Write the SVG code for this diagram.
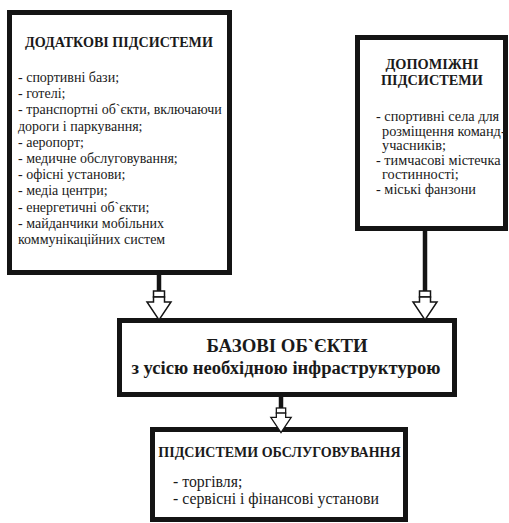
<svg xmlns="http://www.w3.org/2000/svg" xmlns:xlink="http://www.w3.org/1999/xlink" width="509" height="523" viewBox="0 0 509 523">
<style>
.box{fill:#fff;stroke:#141414;stroke-width:5}
.stem{stroke:#141414;stroke-width:4.5;fill:none}
.ah{fill:#fff;stroke:#141414;stroke-width:1.5}
</style>
<defs>
<g id="arr">
<rect class="ah" x="-5.5" y="0" width="11" height="6"/>
<polygon class="ah" points="-5.5,6 5.5,6 5.5,11 12,11 0,29 -12,11 -5.5,11"/>
</g>
</defs>
<rect width="509" height="523" fill="#fff"/>
<g fill="#1a1a1a" font-family="'Liberation Serif', 'Times New Roman', serif">
<g id="node-dodatkovi">
<rect class="box" x="9.5" y="12.5" width="220" height="260"/>
<text x="119" y="47" font-size="14.1" font-weight="bold" text-anchor="middle">ДОДАТКОВІ ПІДСИСТЕМИ</text>
<g font-size="14">
<text x="18" y="82">- спортивні бази;</text>
<text x="18" y="98.2">- готелі;</text>
<text x="18" y="114.4">- транспортні об`єкти, включаючи</text>
<text x="18" y="130.6">дороги і паркування;</text>
<text x="18" y="146.8">- аеропорт;</text>
<text x="18" y="163">- медичне обслуговування;</text>
<text x="18" y="179.2">- офісні установи;</text>
<text x="18" y="195.4">- медіа центри;</text>
<text x="18" y="211.6">- енергетичні об`єкти;</text>
<text x="18" y="227.8">- майданчики мобільних</text>
<text x="18" y="244">коммунікаційних систем</text>
</g>
</g>
<g id="node-dopomizhni">
<rect class="box" x="357.5" y="37.5" width="148" height="191"/>
<text x="432" y="69" font-size="14.3" font-weight="bold" text-anchor="middle">ДОПОМІЖНІ</text>
<text x="432" y="85" font-size="14.3" font-weight="bold" text-anchor="middle">ПІДСИСТЕМИ</text>
<g font-size="14.3">
<text x="376" y="121">- спортивні села для</text>
<text x="382" y="135.5">розміщення команд-</text>
<text x="382" y="150">учасників;</text>
<text x="376" y="164.5">- тимчасові містечка</text>
<text x="382" y="179">гостинності;</text>
<text x="376" y="193.5">- міські фанзони</text>
</g>
</g>
<g id="node-bazovi">
<rect class="box" x="119.5" y="320.5" width="335" height="74"/>
<text x="287" y="352" font-size="18.8" font-weight="bold" text-anchor="middle">БАЗОВІ ОБ`ЄКТИ</text>
<text x="286" y="374" font-size="18.6" font-weight="bold" text-anchor="middle">з усісю необхідною інфраструктурою</text>
</g>
<g id="node-obsluh">
<rect class="box" x="152.5" y="429.5" width="253" height="90"/>
<text x="279.5" y="457" font-size="14" font-weight="bold" text-anchor="middle">ПІДСИСТЕМИ ОБСЛУГОВУВАННЯ</text>
<text x="173" y="486.5" font-size="15.8">- торгівля;</text>
<text x="173" y="503.5" font-size="15.8">- сервісні і фінансові установи</text>
</g>
</g>
<g id="connectors">
<line class="stem" x1="159" y1="275" x2="159" y2="291"/>
<use xlink:href="#arr" transform="translate(159,291)"/>
<line class="stem" x1="425" y1="231" x2="425" y2="291"/>
<use xlink:href="#arr" transform="translate(425,291)"/>
<line class="stem" x1="281" y1="397" x2="281" y2="408"/>
<use xlink:href="#arr" transform="translate(281,408) scale(0.85)"/>
</g>
</svg>
